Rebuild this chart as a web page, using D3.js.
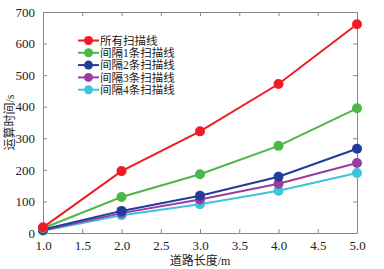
<!DOCTYPE html>
<html>
<head>
<meta charset="utf-8">
<script src="https://cdn.jsdelivr.net/npm/d3@7"></script>
<style>
  body { margin: 0; background: #fff; }
  text { font-family: "Liberation Serif", "Noto Sans CJK SC", serif; fill: #222; }
  .axis path, .axis line { stroke: #888; }
</style>
</head>
<body>
<svg id="chart"></svg>
<script>
// data
const lengths = [1.0, 2.0, 3.0, 4.0, 5.0];
const seriesNames = ['所有扫描线', '间隔1条扫描线', '间隔2条扫描线', '间隔3条扫描线', '间隔4条扫描线'];
const allLines = [18, 196, 322, 472, 661];
const skip1 = [15, 114, 186, 276, 395];
const skip2 = [11, 70, 118, 178, 267];
const skip3 = [9, 63, 106, 156, 222];
const skip4 = [7, 56, 91, 134, 190];
const colors = ['#ee1c25', '#4cb848', '#1f3d99', '#9a3c9e', '#3dc4dc'];
const xTicks = [1.0, 1.5, 2.0, 2.5, 3.0, 3.5, 4.0, 4.5, 5.0];
const yTicks = [0, 100, 200, 300, 400, 500, 600, 700];

const series = [allLines, skip1, skip2, skip3, skip4].map((vals, i) => ({
    name: seriesNames[i],
    color: colors[i],
    points: vals.map((v, j) => ({x: lengths[j], y: v}))
}));

const W = 384, H = 269;
const margin = {top: 12, right: 27, bottom: 36, left: 43};
const width = W - margin.left - margin.right;
const height = H - margin.top - margin.bottom;
const serif = '"Liberation Serif", "Noto Sans CJK SC", serif';

const svg = d3.select('#chart').attr('width', W).attr('height', H);
const chart = svg.append('g').attr('transform', `translate(${margin.left}, ${margin.top})`);

const xScale = d3.scaleLinear().domain([1, 5]).range([0, width]);
const yScale = d3.scaleLinear().domain([0, 700]).range([height, 0]);

const fmtX = d3.format('.1f');

// axes with inward ticks on all four sides
chart.append('g').attr('class', 'axis')
    .attr('transform', `translate(0, ${height})`)
    .call(d3.axisBottom(xScale).tickValues(xTicks).tickFormat(fmtX).tickSizeInner(-4).tickSizeOuter(0).tickPadding(8));
chart.append('g').attr('class', 'axis')
    .call(d3.axisTop(xScale).tickValues(xTicks).tickFormat('').tickSizeInner(-4).tickSizeOuter(0));
chart.append('g').attr('class', 'axis')
    .call(d3.axisLeft(yScale).tickValues(yTicks).tickSizeInner(-4).tickSizeOuter(0).tickPadding(8));
chart.append('g').attr('class', 'axis')
    .attr('transform', `translate(${width}, 0)`)
    .call(d3.axisRight(yScale).tickValues(yTicks).tickFormat('').tickSizeInner(-4).tickSizeOuter(0));

chart.selectAll('.axis').attr('font-family', serif).attr('font-size', 13);
chart.selectAll('.axis text').attr('fill', '#222');

const line = d3.line().x(d => xScale(d.x)).y(d => yScale(d.y));

// draw from the bottom series up so red sits on top
const ordered = series.slice().reverse();
chart.selectAll('.series')
    .data(ordered)
    .join('g')
    .attr('class', 'series')
    .each(function(s) {
        const g = d3.select(this);
        g.append('path')
            .attr('d', line(s.points))
            .attr('fill', 'none')
            .attr('stroke', s.color)
            .attr('stroke-width', 2);
        g.selectAll('circle')
            .data(s.points)
            .join('circle')
            .attr('cx', d => xScale(d.x))
            .attr('cy', d => yScale(d.y))
            .attr('r', 5)
            .attr('fill', s.color);
    });

// legend
const legend = chart.append('g').attr('transform', 'translate(35, 28.5)');
series.forEach((s, i) => {
    const row = legend.append('g').attr('transform', `translate(0, ${i * 12.3})`);
    row.append('line').attr('x1', 0).attr('x2', 21).attr('stroke', s.color).attr('stroke-width', 2);
    row.append('circle').attr('cx', 10.5).attr('r', 4.5).attr('fill', s.color);
    row.append('text').attr('x', 22).attr('dy', '0.36em').style('font-size', '11.5px').text(s.name);
});

// axis titles
svg.append('text')
    .attr('x', margin.left + width / 2)
    .attr('y', H - 4)
    .style('text-anchor', 'middle')
    .style('font-size', '12px')
    .text('道路长度/m');

svg.append('text')
    .attr('transform', `translate(14, ${margin.top + height / 2}) rotate(-90)`)
    .style('text-anchor', 'middle')
    .style('font-size', '12px')
    .text('运算时间/s');
</script>
</body>
</html>
